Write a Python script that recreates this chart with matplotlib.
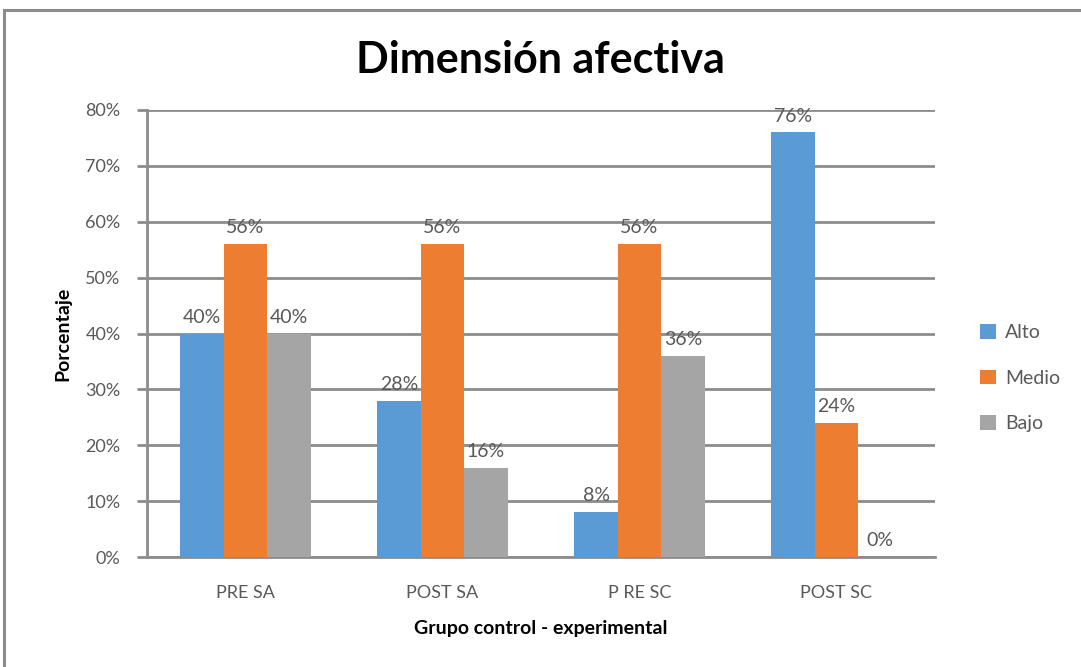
import matplotlib
matplotlib.use("Agg")
import matplotlib.pyplot as plt
import numpy as np
from matplotlib.patches import Rectangle

plt.rcParams["font.family"] = ["Lato", "DejaVu Sans"]

# ── Data ──────────────────────────────────────────────────────────────────────
groups = ["PRE SA", "POST SA", "P RE SC", "POST SC"]
series_names = ["Alto", "Medio", "Bajo"]
alto = [40, 28, 8, 76]
medio = [56, 56, 56, 24]
bajo = [40, 16, 36, 0]
colors = ["#5B9BD5", "#ED7D31", "#A5A5A5"]
y_ticks = [0, 10, 20, 30, 40, 50, 60, 70, 80]

# ── Figure ────────────────────────────────────────────────────────────────────
fig = plt.figure(figsize=(10.81, 6.67), dpi=100)
ax = fig.add_axes([147 / 1081, 1 - 557 / 667, 788 / 1081, 447 / 667])

# outer frame of the chart
fig.patches.append(Rectangle((4 / 1081, -0.05), 1.05, 1 - 10 / 667 + 0.05,
                             transform=fig.transFigure, fill=False,
                             edgecolor="#8c8c8c", linewidth=2.2))

x = np.arange(len(groups))
bar_w = 0.22
for i, (name, vals, col) in enumerate(zip(series_names, [alto, medio, bajo], colors)):
    offset = (i - 1) * bar_w
    bars = ax.bar(x + offset, vals, width=bar_w, color=col, label=name, zorder=3)
    for b, v in zip(bars, vals):
        ax.text(b.get_x() + b.get_width() / 2, v + 1.4, f"{v}%",
                ha="center", va="bottom", fontsize=14, color="#595959", zorder=4)

ax.set_xlim(-0.5, len(groups) - 0.5)
ax.set_ylim(0, 80)
ax.set_yticks(y_ticks)
ax.set_yticklabels([f"{t}%" for t in y_ticks], fontsize=13, color="#595959")
ax.set_xticks(x)
ax.set_xticklabels(groups, fontsize=13, color="#595959")
ax.tick_params(axis="x", length=0, pad=20)
ax.tick_params(axis="y", length=7, width=2, color="#8c8c8c", pad=12)
ax.grid(axis="y", color="#8c8c8c", linewidth=2, zorder=0)
for s in ["top", "right"]:
    ax.spines[s].set_visible(False)
for s in ["left", "bottom"]:
    ax.spines[s].set_color("#8c8c8c")
    ax.spines[s].set_linewidth(2)

ax.set_ylabel("Porcentaje", fontsize=14, fontweight="bold", labelpad=10)
ax.set_xlabel("Grupo control - experimental", fontsize=14, fontweight="bold", labelpad=14)
fig.suptitle("Dimensión afectiva", fontsize=31, fontweight="bold", y=0.94)

ax.legend(loc="center left", bbox_to_anchor=(1.035, 0.40), frameon=False,
          fontsize=14, handlelength=0.8, handleheight=0.8, labelspacing=1.45,
          handletextpad=0.5, labelcolor="#595959")

fig.savefig("out.png", dpi=100)
